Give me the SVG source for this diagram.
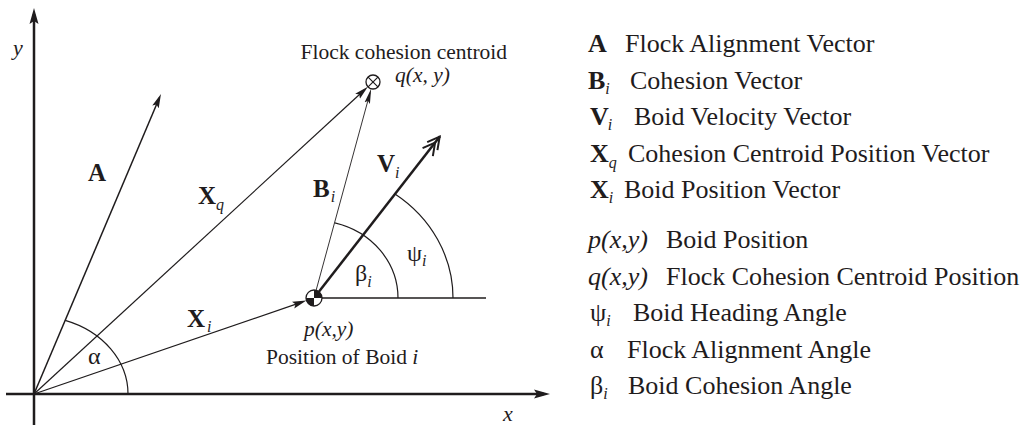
<svg xmlns="http://www.w3.org/2000/svg" width="1034" height="426" viewBox="0 0 1034 426">
<style>
text{font-family:"Liberation Serif","Times New Roman",serif;fill:#1f1c1d}
.lg{font-size:26px}
.lbl{font-size:21.5px}
.b{font-weight:bold}
.it{font-style:italic}
.sub{font-style:italic;font-weight:normal;font-size:16px}
.gk{font-size:24px}
.ln{stroke:#1f1c1d;fill:none}
.ax{stroke-width:2.5}
.arc{stroke-width:1.2}
</style>
<defs>
<marker id="axh" viewBox="0 -5 17 10" refX="10" refY="0" markerWidth="17" markerHeight="10" markerUnits="userSpaceOnUse" orient="auto"><path d="M0,-4.5 L16,0 L0,4.5 L3,0 Z" fill="#1f1c1d"/></marker>
<marker id="vh" viewBox="0 -4 15 8" refX="10" refY="0" markerWidth="15" markerHeight="8" markerUnits="userSpaceOnUse" orient="auto"><path d="M0,-3.5 L14,0 L0,3.5 L2.5,0 Z" fill="#1f1c1d"/></marker>
<marker id="vhn" viewBox="0 -4 16 8" refX="11" refY="0" markerWidth="16" markerHeight="8" markerUnits="userSpaceOnUse" orient="auto"><path d="M0,-2.8 L15,0 L0,2.8 L2.5,0 Z" fill="#1f1c1d"/></marker>
<marker id="dch" viewBox="-24 -9 26 18" refX="0" refY="0" markerWidth="26" markerHeight="18" markerUnits="userSpaceOnUse" orient="auto"><path d="M-12.5,-6.5 L-0.5,0 L-12.5,6.5 M-20,-6.5 L-8,0 L-20,6.5" fill="none" stroke="#1f1c1d" stroke-width="2" stroke-linejoin="miter"/></marker>
</defs>

<g id="axes">
<line class="ln ax" x1="34" y1="425" x2="34" y2="14" marker-end="url(#axh)"/>
<line class="ln ax" x1="6" y1="394" x2="544" y2="394" marker-end="url(#axh)"/>
<text class="lbl it" x="13" y="55" style="font-size:22px">y</text>
<text class="lbl it" x="503" y="421" style="font-size:22px">x</text>
</g>

<g id="connectors">
<line id="vec-A" class="ln" stroke-width="1.5" x1="34" y1="394" x2="159.4" y2="97.7" marker-end="url(#vh)"/>
<line id="vec-Xq" class="ln" stroke-width="1.2" x1="34" y1="394" x2="364.9" y2="89.5" marker-end="url(#vh)"/>
<line id="vec-Xi" class="ln" stroke-width="1.3" x1="34" y1="394" x2="302.6" y2="301.9" marker-end="url(#vh)"/>
<line id="vec-Bi" class="ln" stroke-width="0.9" x1="314" y1="298" x2="370.1" y2="92.6" marker-end="url(#vhn)"/>
<line id="vec-Vi" class="ln" stroke-width="2.5" x1="314" y1="298" x2="440" y2="136.3" marker-end="url(#dch)"/>
<line id="ref-line" class="ln" stroke-width="1.5" x1="314" y1="298" x2="486" y2="298"/>
<path id="arc-alpha" class="ln arc" d="M65.2,320.4 A94,78 0 0 1 128,394"/>
<path id="arc-beta" class="ln arc" d="M334.8,222.9 A84,77.5 0 0 1 398,298"/>
<path id="arc-psi" class="ln arc" d="M395,194 A139,128 0 0 1 453,298"/>
</g>

<g id="labels">
<text class="b" style="font-size:25px" x="88" y="181">A</text>
<text class="b" style="font-size:25px" x="198" y="204">X<tspan class="sub" dy="6">q</tspan></text>
<text class="b" style="font-size:25px" x="187" y="327">X<tspan class="sub" dx="2" dy="5">i</tspan></text>
<text class="b" style="font-size:25px" x="313" y="197">B<tspan class="sub" dx="1" dy="5">i</tspan></text>
<text class="b" style="font-size:25px" x="377" y="172">V<tspan class="sub" dy="6">i</tspan></text>
<text class="gk" x="88" y="364">α</text>
<text class="gk" x="355" y="281">β<tspan class="sub" dy="6">i</tspan></text>
<text class="gk" x="407" y="261">ψ<tspan class="sub" dy="5">i</tspan></text>
</g>

<g id="node-centroid">
<circle cx="373" cy="82" r="7" fill="#fff" stroke="#1f1c1d" stroke-width="1.3"/>
<path class="ln" stroke-width="1.2" d="M368.1,77.1 L377.9,86.9 M377.9,77.1 L368.1,86.9"/>
<text class="lbl" x="300.5" y="59">Flock cohesion centroid</text>
<text class="lbl it" x="395" y="82">q(x, y)</text>
</g>

<g id="node-boid">
<circle cx="314" cy="298" r="8" fill="#fff"/>
<path d="M314,298 L322,298 A8,8 0 0 0 314,290 Z M314,298 L306,298 A8,8 0 0 0 314,306 Z" fill="#1f1c1d"/>
<circle cx="314" cy="298" r="8" fill="none" stroke="#1f1c1d" stroke-width="1.3"/>
<text class="lbl it" x="304" y="336">p(x,y)</text>
<text class="lbl" x="266" y="364">Position of Boid <tspan class="it">i</tspan></text>
</g>

<g id="legend">
<text class="lg b" x="588" y="52">A</text>
<text class="lg" x="625" y="52">Flock Alignment Vector</text>
<text class="lg b" x="588" y="88.5">B<tspan class="sub" dy="5">i</tspan></text>
<text class="lg" x="630" y="88.5">Cohesion Vector</text>
<text class="lg b" x="590" y="125">V<tspan class="sub" dx="-1" dy="5">i</tspan></text>
<text class="lg" x="634" y="125">Boid Velocity Vector</text>
<text class="lg b" x="590" y="161.5">X<tspan class="sub" dy="6">q</tspan></text>
<text class="lg" x="628" y="161.5">Cohesion Centroid Position Vector</text>
<text class="lg b" x="590" y="198">X<tspan class="sub" dy="5">i</tspan></text>
<text class="lg" x="624" y="198">Boid Position Vector</text>
<text class="lg it" x="588" y="248">p(x,y)</text>
<text class="lg" x="666" y="248">Boid Position</text>
<text class="lg it" x="588" y="284.5">q(x,y)</text>
<text class="lg" x="666" y="284.5">Flock Cohesion Centroid Position</text>
<text class="lg" x="590" y="321">ψ<tspan class="sub" dy="5">i</tspan></text>
<text class="lg" x="633" y="321">Boid Heading Angle</text>
<text class="lg" x="590" y="357.5">α</text>
<text class="lg" x="627" y="357.5">Flock Alignment Angle</text>
<text class="lg" x="590" y="394">β<tspan class="sub" dy="5">i</tspan></text>
<text class="lg" x="628" y="394">Boid Cohesion Angle</text>
</g>
</svg>
